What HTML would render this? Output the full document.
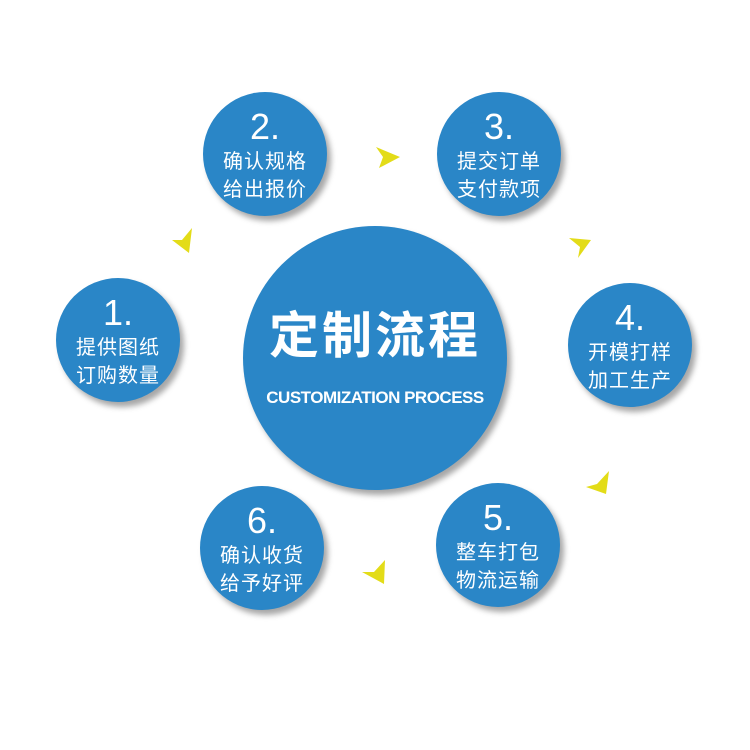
<!DOCTYPE html>
<html><head><meta charset="utf-8"><style>
html,body{margin:0;padding:0;background:#fff;}
.wrap{position:relative;width:750px;height:750px;overflow:hidden;font-family:"Liberation Sans","Noto Sans CJK SC",sans-serif;}
.c{position:absolute;border-radius:50%;background:#2a86c7;box-shadow:4px 5px 6px rgba(0,0,0,0.35);color:#fff;text-align:center;}
.s{width:124px;height:124px;}
.s .n{position:absolute;left:0;right:0;top:17px;font-size:36px;line-height:36px;}
.s .t{position:absolute;left:0;right:0;top:56px;font-size:20px;line-height:28px;letter-spacing:1px;}
</style></head><body><div class="wrap">
<div class="c" style="left:243px;top:226px;width:264px;height:264px;">
 <div style="position:absolute;left:0;right:0;top:82px;font-size:50px;font-weight:bold;line-height:56px;letter-spacing:3px;">定制流程</div>
 <div style="position:absolute;left:0;right:0;top:162px;font-size:17px;font-weight:bold;line-height:20px;letter-spacing:-0.5px;">CUSTOMIZATION PROCESS</div>
</div>
<div class="c s" style="left:56px;top:278px;"><div class="n">1.</div><div class="t">提供图纸<br>订购数量</div></div>
<div class="c s" style="left:203px;top:92px;"><div class="n">2.</div><div class="t">确认规格<br>给出报价</div></div>
<div class="c s" style="left:437px;top:92px;"><div class="n">3.</div><div class="t">提交订单<br>支付款项</div></div>
<div class="c s" style="left:568px;top:283px;"><div class="n">4.</div><div class="t">开模打样<br>加工生产</div></div>
<div class="c s" style="left:436px;top:483px;"><div class="n">5.</div><div class="t">整车打包<br>物流运输</div></div>
<div class="c s" style="left:200px;top:486px;"><div class="n">6.</div><div class="t">确认收货<br>给予好评</div></div>
<svg width="750" height="750" style="position:absolute;left:0;top:0;">
 <g fill="#e3dc18">
  <polygon points="376,147 400,157 379,168 383,157"/>
  <polygon points="192,228 189,253 172,240 182,240"/>
  <polygon points="569,238 591,240 578,258 580,247"/>
  <polygon points="609,471 606,494 586,487 597,484"/>
  <polygon points="385,560 384,584 362,572 374,572"/>
 </g>
</svg>
</div></body></html>
